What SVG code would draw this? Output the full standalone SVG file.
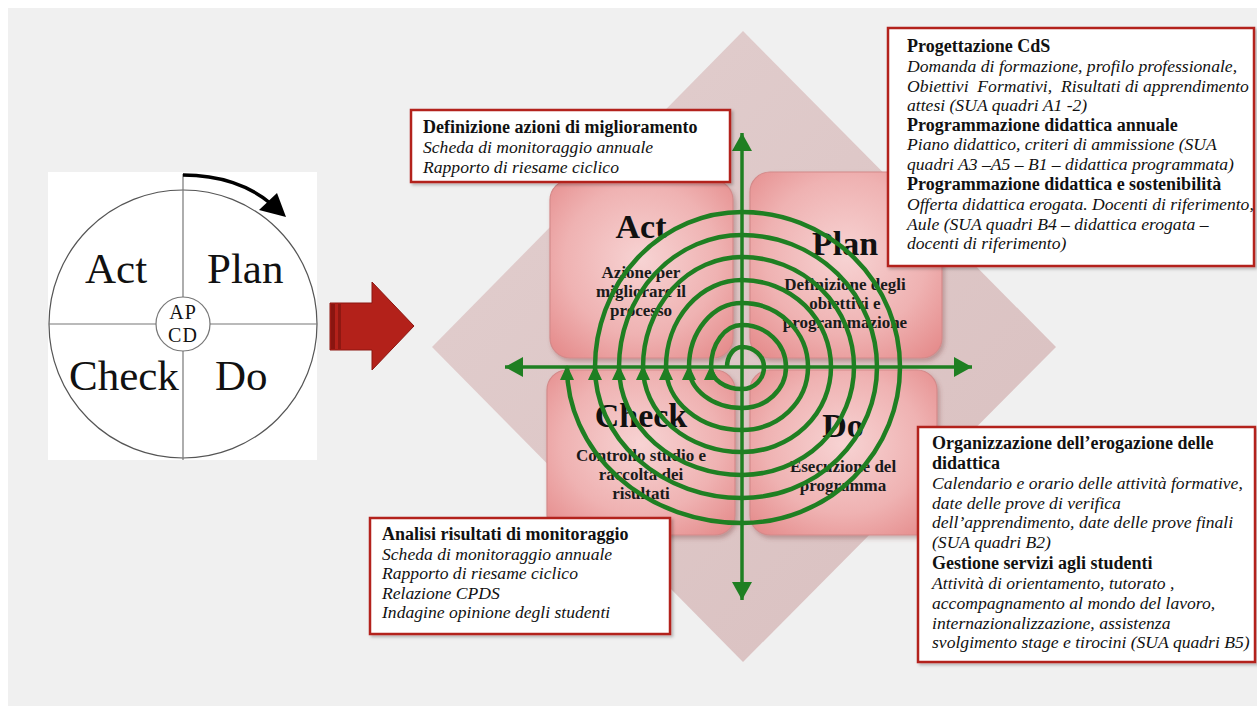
<svg xmlns="http://www.w3.org/2000/svg" width="1257" height="722" viewBox="0 0 1257 722">
  <defs>
    <style>
      .pdca-txt { font-family: "Liberation Serif", "Times New Roman", serif; fill: #111; }
      .big { font-family: "Liberation Serif", serif; font-weight: bold; font-size: 34px; fill: #111; text-anchor: middle; }
      .sub { font-family: "Liberation Serif", serif; font-weight: bold; font-size: 17px; fill: #1a1a1a; text-anchor: middle; }
      .card { fill: url(#cardFill); stroke: #d48a8a; stroke-width: 1.2; filter: url(#shadow); }
      .note { fill: #ffffff; stroke: #b3231f; stroke-width: 2.5; filter: url(#noteShadow); }
      .nb { font-family: "Liberation Serif", serif; font-weight: bold; font-size: 18px; fill: #111; }
      .ni { font-family: "Liberation Serif", serif; font-style: italic; font-size: 17.6px; fill: #111; }
      .axis { stroke: #1f7f22; stroke-width: 3.5; fill: none; }
      .coil { stroke: #1f7f22; stroke-width: 4.5; fill: none; marker-end: url(#coilHead); }
    </style>
    <radialGradient id="cardFill" cx="50%" cy="45%" r="70%">
      <stop offset="0" stop-color="#f7d3d3"/>
      <stop offset="0.6" stop-color="#efb2b2"/>
      <stop offset="1" stop-color="#e58c8c"/>
    </radialGradient>
    <linearGradient id="diamondFill" x1="0" y1="0" x2="1" y2="1">
      <stop offset="0" stop-color="#e2cfcf"/>
      <stop offset="1" stop-color="#d9bfbf"/>
    </linearGradient>
    <filter id="shadow" x="-10%" y="-10%" width="130%" height="130%">
      <feDropShadow dx="2" dy="3" stdDeviation="2" flood-color="#7a3a3a" flood-opacity="0.35"/>
    </filter>
    <filter id="noteShadow" x="-5%" y="-10%" width="115%" height="130%">
      <feDropShadow dx="2" dy="2" stdDeviation="1.5" flood-color="#000" flood-opacity="0.25"/>
    </filter>
    <marker id="axisHead" viewBox="0 0 18 20" refX="18" refY="10" markerWidth="18" markerHeight="20" markerUnits="userSpaceOnUse" orient="auto">
      <path d="M0,0 L18,10 L0,20 Z" fill="#1f7f22"/>
    </marker>
    <marker id="coilHead" viewBox="0 0 15 14" refX="13" refY="7" markerWidth="15" markerHeight="14" markerUnits="userSpaceOnUse" orient="auto">
      <path d="M0,0 L15,7 L0,14 Z" fill="#1f7f22"/>
    </marker>
  </defs>

  <!-- page background -->
  <rect x="0" y="0" width="1257" height="722" fill="#ffffff"/>
  <rect x="8" y="8" width="1249" height="698" fill="#f0f0f0"/>

  <!-- classic PDCA wheel -->
  <g id="pdca-wheel">
    <rect x="48" y="172" width="269" height="288" fill="#ffffff"/>
    <circle cx="183" cy="324" r="134" fill="none" stroke="#555" stroke-width="1.2"/>
    <line x1="183" y1="174" x2="183" y2="460" stroke="#777" stroke-width="1.2"/>
    <line x1="49" y1="324" x2="317" y2="324" stroke="#777" stroke-width="1.2"/>
    <circle cx="183" cy="324" r="27" fill="#ffffff" stroke="#777" stroke-width="1.2"/>
    <text class="pdca-txt" x="85" y="283" font-size="43">Act</text>
    <text class="pdca-txt" x="207" y="283" font-size="43">Plan</text>
    <text class="pdca-txt" x="69" y="390" font-size="43">Check</text>
    <text class="pdca-txt" x="215" y="390" font-size="43">Do</text>
    <text class="pdca-txt" x="183" y="319" font-size="20" text-anchor="middle" letter-spacing="1">AP</text>
    <text class="pdca-txt" x="183" y="342" font-size="20" text-anchor="middle" letter-spacing="1">CD</text>
    <path d="M183,175 C220,175 250,186 270,203" fill="none" stroke="#000" stroke-width="3.5"/>
    <polygon points="286,217 277,193 259,210" fill="#000"/>
  </g>

  <!-- transition arrow -->
  <g id="transition-arrow">
    <polygon points="330,303 372,303 372,282 414,326 372,370 372,350 330,350" fill="#b3211a" stroke="#8c1611" stroke-width="1"/>
    <rect x="331" y="304" width="4" height="45" fill="#8a1510"/>
    <rect x="338" y="304" width="3" height="45" fill="#8f1812"/>
  </g>

  <!-- backdrop diamond -->
  <polygon id="backdrop" points="743,31 1056,347 743,662 432,347" fill="url(#diamondFill)"/>

  <g id="node-act">
    <rect class="card" x="550" y="180" width="183" height="178" rx="20"/>
    <text class="big" x="641" y="238">Act</text>
    <text class="sub" x="641" y="278">Azione per</text>
    <text class="sub" x="641" y="297">migliorare il</text>
    <text class="sub" x="641" y="316">processo</text>
  </g>

  <g id="node-plan">
    <rect class="card" x="750" y="172" width="192" height="186" rx="20"/>
    <text class="big" x="845" y="255">Plan</text>
    <text class="sub" x="845" y="290">Definizione degli</text>
    <text class="sub" x="845" y="309">obiettivi e</text>
    <text class="sub" x="845" y="328">programmazione</text>
  </g>

  <g id="node-check">
    <rect class="card" x="547" y="370" width="188" height="165" rx="20"/>
    <text class="big" x="641" y="427">Check</text>
    <text class="sub" x="641" y="461">Controllo studio e</text>
    <text class="sub" x="641" y="480">raccolta dei</text>
    <text class="sub" x="641" y="499">risultati</text>
  </g>

  <g id="node-do">
    <rect class="card" x="750" y="370" width="187" height="165" rx="20"/>
    <text class="big" x="843" y="437">Do</text>
    <text class="sub" x="843" y="472">Esecuzione del</text>
    <text class="sub" x="843" y="491">programma</text>
  </g>

  <!-- axes and improvement spiral -->
  <g id="connectors">
    <line class="axis" x1="742" y1="367" x2="742" y2="133" marker-end="url(#axisHead)"/>
    <line class="axis" x1="742" y1="367" x2="742" y2="600" marker-end="url(#axisHead)"/>
    <line class="axis" x1="742" y1="367" x2="505" y2="367" marker-end="url(#axisHead)"/>
    <line class="axis" x1="742" y1="367" x2="972" y2="367" marker-end="url(#axisHead)"/>
    <path class="coil" d="M727,367 A15,20 0 0 1 742,347 A22,20 0 0 1 764,367 A22,22 0 0 1 742,389 A31,22 0 0 1 711,367"/>
    <path class="coil" d="M711,367 A31,42 0 0 1 742,325 A44,42 0 0 1 786,367 A44,41 0 0 1 742,408 A53,41 0 0 1 689,367"/>
    <path class="coil" d="M689,367 A53,64 0 0 1 742,303 A66,64 0 0 1 808,367 A66,63 0 0 1 742,430 A76,63 0 0 1 666,367"/>
    <path class="coil" d="M666,367 A76,87 0 0 1 742,280 A89,87 0 0 1 831,367 A89,85 0 0 1 742,452 A99,85 0 0 1 643,367"/>
    <path class="coil" d="M643,367 A99,110 0 0 1 742,257 A112,110 0 0 1 854,367 A112,108 0 0 1 742,475 A123,108 0 0 1 619,367"/>
    <path class="coil" d="M619,367 A123,132 0 0 1 742,235 A135,132 0 0 1 877,367 A135,131 0 0 1 742,498 A147,131 0 0 1 595,367"/>
    <path class="coil" d="M595,367 A147,155 0 0 1 742,212 A158,155 0 0 1 900,367 A158,156 0 0 1 742,523 A175,156 0 0 1 567,367"/>
  </g>

  <g id="note-act">
    <rect class="note" x="411" y="110" width="319" height="72"/>
    <text class="nb" x="423" y="133">Definizione azioni di miglioramento</text>
    <text class="ni" x="423" y="153">Scheda di monitoraggio annuale</text>
    <text class="ni" x="423" y="173">Rapporto di riesame ciclico</text>
  </g>

  <g id="note-plan">
    <rect class="note" x="888" y="28" width="366" height="238"/>
    <text class="nb" x="907" y="52">Progettazione CdS</text>
    <text class="ni" x="907" y="72">Domanda di formazione, profilo professionale,</text>
    <text class="ni" x="907" y="92" xml:space="preserve">Obiettivi  Formativi,  Risultati di apprendimento</text>
    <text class="ni" x="907" y="111">attesi (SUA quadri A1 -2)</text>
    <text class="nb" x="907" y="131">Programmazione didattica annuale</text>
    <text class="ni" x="907" y="150">Piano didattico, criteri di ammissione (SUA</text>
    <text class="ni" x="907" y="170">quadri A3 –A5 – B1 – didattica programmata)</text>
    <text class="nb" x="907" y="190">Programmazione didattica e sostenibilità</text>
    <text class="ni" x="907" y="210">Offerta didattica erogata. Docenti di riferimento,</text>
    <text class="ni" x="907" y="230">Aule (SUA quadri B4 – didattica erogata –</text>
    <text class="ni" x="907" y="249">docenti di riferimento)</text>
  </g>

  <g id="note-check">
    <rect class="note" x="370" y="518" width="300" height="116"/>
    <text class="nb" x="382" y="540">Analisi risultati di monitoraggio</text>
    <text class="ni" x="382" y="559.5">Scheda di monitoraggio annuale</text>
    <text class="ni" x="382" y="579">Rapporto di riesame ciclico</text>
    <text class="ni" x="382" y="598.5">Relazione CPDS</text>
    <text class="ni" x="382" y="618">Indagine opinione degli studenti</text>
  </g>

  <g id="note-do">
    <rect class="note" x="918" y="427" width="337" height="235"/>
    <text class="nb" x="932" y="449">Organizzazione dell’erogazione delle</text>
    <text class="nb" x="932" y="469">didattica</text>
    <text class="ni" x="932" y="489">Calendario e orario delle attività formative,</text>
    <text class="ni" x="932" y="509">date delle prove di verifica</text>
    <text class="ni" x="932" y="528">dell’apprendimento, date delle prove finali</text>
    <text class="ni" x="932" y="548">(SUA quadri B2)</text>
    <text class="nb" x="932" y="569">Gestione servizi agli studenti</text>
    <text class="ni" x="932" y="589">Attività di orientamento, tutorato ,</text>
    <text class="ni" x="932" y="609">accompagnamento al mondo del lavoro,</text>
    <text class="ni" x="932" y="629">internazionalizzazione, assistenza</text>
    <text class="ni" x="932" y="648">svolgimento stage e tirocini (SUA quadri B5)</text>
  </g>
</svg>
